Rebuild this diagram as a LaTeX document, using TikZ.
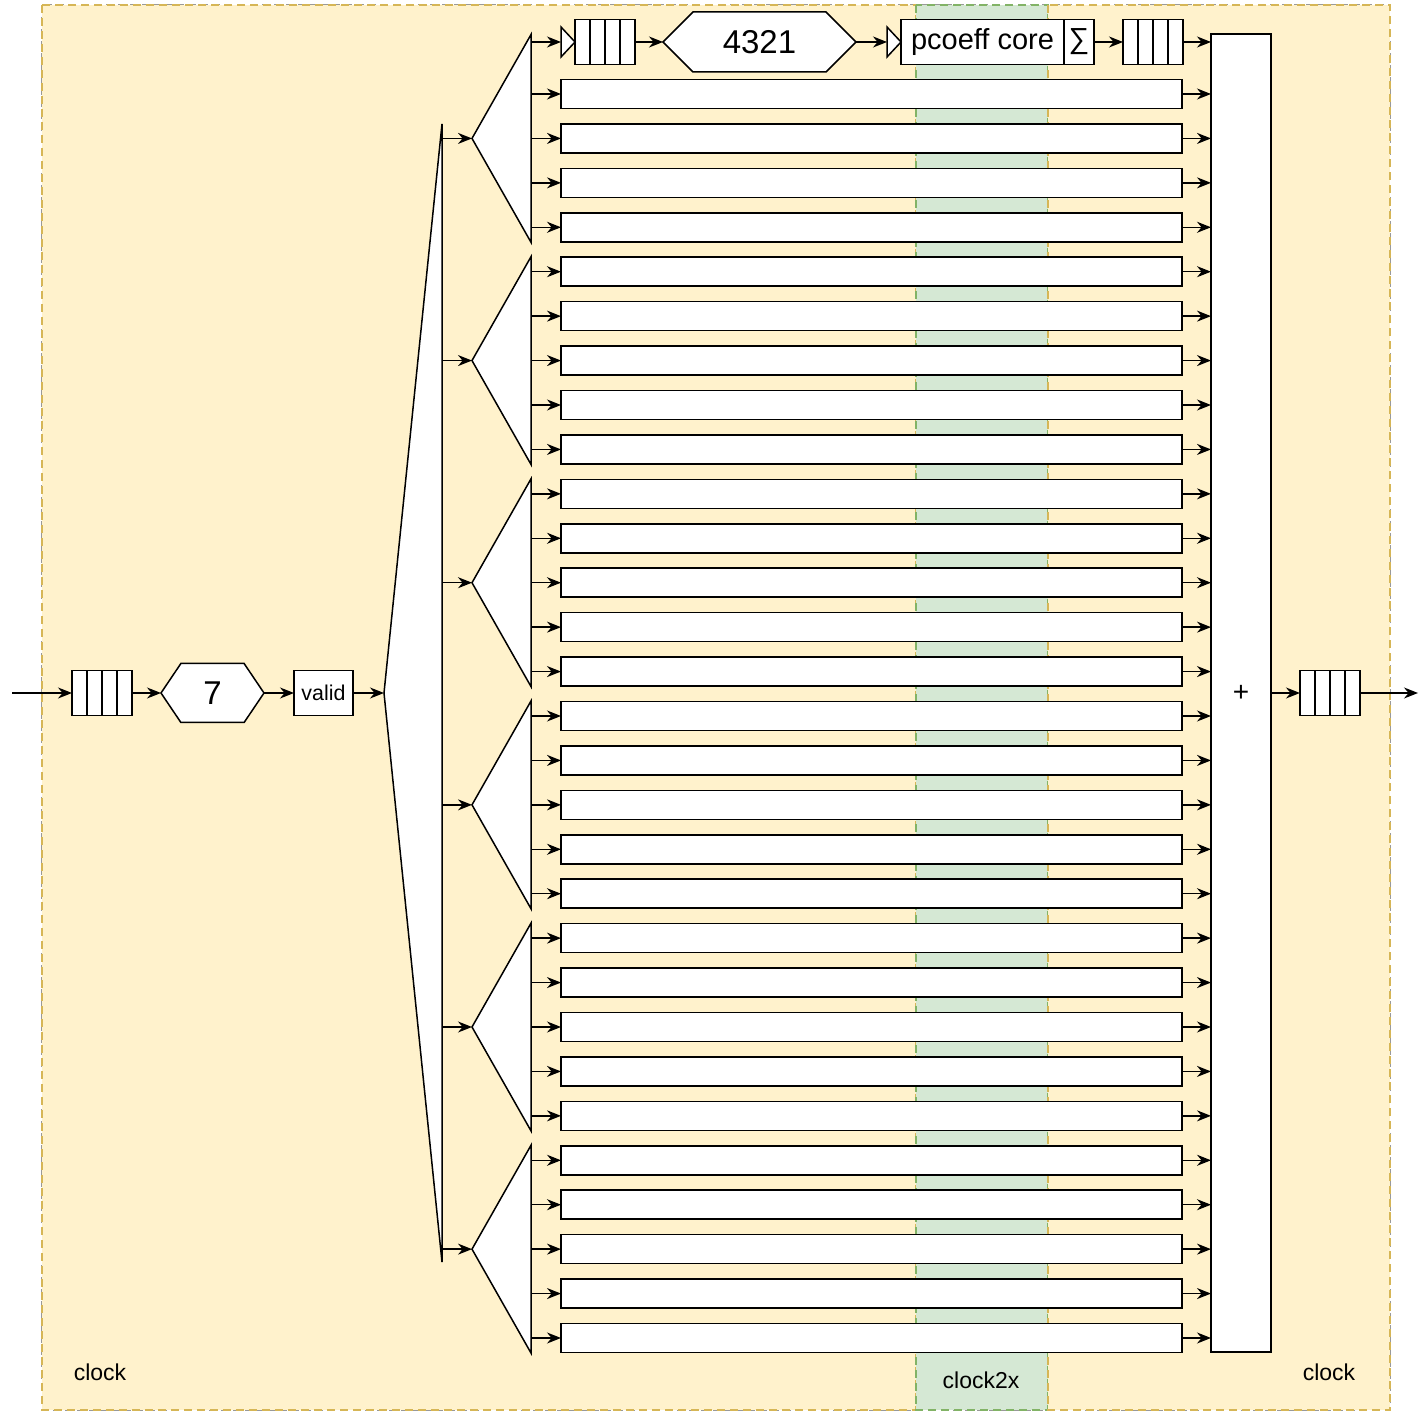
\documentclass[tikz,border=0pt]{standalone}
\usepackage{fontspec}
\setmainfont{Liberation Sans}
\usetikzlibrary{arrows.meta,shapes.symbols,calc}

\definecolor{clkfill}{HTML}{FFF2CC}
\definecolor{clkline}{HTML}{D6B656}
\definecolor{fastfill}{HTML}{D5E8D4}
\definecolor{fastline}{HTML}{82B366}

\tikzset{
  wire/.style={line width=0.7pt, -{Stealth[length=7pt,width=5.5pt]}},
  blk/.style={draw, fill=white, line width=0.75pt, inner sep=0pt, outer sep=0pt},
  fifo/.style={blk, minimum width=30pt, minimum height=22.5pt,
    path picture={\foreach \f in {0.25,0.5,0.75}{
      \draw[line width=0.75pt]
        ($(path picture bounding box.north west)!\f!(path picture bounding box.north east)$) --
        ($(path picture bounding box.south west)!\f!(path picture bounding box.south east)$);}}},
  lane/.style={blk, minimum width=310.5pt, minimum height=14.5pt},
  hexa/.style={blk, shape=signal, signal to=west and east},
  region/.style={line width=1.2pt, dash pattern=on 4pt off 2.5pt},
  lbl/.style={font=\fontsize{11.5pt}{13pt}\selectfont},
  big/.style={font=\fontsize{16.5pt}{18pt}\selectfont},
}

\begin{document}
\begin{tikzpicture}[x=0.5pt,y=-0.5pt]
\useasboundingbox (0,0) rectangle (1420,1411);

% clock domains
\draw[gray!80, line width=0.8pt, dash pattern=on 3pt off 3pt] (42,5) rectangle (1390,1410);
\filldraw[fill=clkfill, draw=clkline, region] (42,5) rectangle (916,1410);
\filldraw[fill=fastfill, draw=fastline, region] (916,5) rectangle (1048,1410);
\filldraw[fill=clkfill, draw=clkline, region] (1048,5) rectangle (1390,1410);
\node[lbl] (clkL) at (100,1372) {clock};
\node[lbl] (clk2x) at (981,1380) {clock2x};
\node[lbl] (clkR) at (1329,1372) {clock};

% input stage
\coordinate (in) at (12,693);
\node[fifo] (qin) at (102,693) {};
\node[hexa, big, minimum width=51.5pt, minimum height=29.5pt, signal pointer angle=112] (h7) at (212.5,693) {7};
\node[blk, minimum width=29.5pt, minimum height=22.5pt, font=\fontsize{10.7pt}{12pt}\selectfont] (valid) at (323.5,693) {valid};
\draw[wire] (in) -- (qin.west);
\draw[wire] (qin.east) -- (h7.west);
\draw[wire] (h7.east) -- (valid.west);

% first-level demux
\draw[blk] (384,693) -- (442,124) -- (442,1262) -- cycle;
\coordinate (bd) at (384,693);
\draw[wire] (valid.east) -- (bd);

% adder
\node[blk, minimum width=30pt, minimum height=659pt, font=\fontsize{14pt}{16pt}\selectfont] (adder) at (1241,693) {+};

% second-level demuxes
\foreach \g in {0,...,5}{
  \pgfmathsetmacro{\ytop}{49.5714+5*\g*44.4286-15}
  \pgfmathsetmacro{\yap}{49.5714+(5*\g+2)*44.4286}
  \pgfmathsetmacro{\ybot}{49.5714+(5*\g+4)*44.4286+15}
  \draw[blk] (472,\yap) -- (531,\ytop) -- (531,\ybot) -- cycle;
  \coordinate (s\g) at (442,\yap);
  \coordinate (d\g) at (472,\yap);
  \draw[wire] (s\g) -- (d\g);
}

% lanes
\foreach \k in {1,...,29}{
  \pgfmathsetmacro{\yk}{49.5714+\k*44.4286}
  \coordinate (o\k) at (531,\yk);
  \node[lane] (lane\k) at (871.5,\yk) {};
  \draw[wire] (o\k) -- (lane\k.west);
  \draw[wire] (lane\k.east) -- (lane\k.east -| adder.west);
}

% detailed lane
\coordinate (o0) at (531,42);
\node[fifo] (qa) at (605,42) {};
\draw[blk] (qa.west) -- ++(-14,-15) -- ++(0,30) -- cycle;
\coordinate (ta) at ($(qa.west)+(-14,0)$);
\node[hexa, big, minimum width=96.5pt, minimum height=30pt, signal pointer angle=90] (h4) at (759.5,42) {4321};
\node[blk, minimum width=81.5pt, minimum height=22.5pt, font=\fontsize{14.5pt}{16pt}\selectfont] (core) at (982.5,42) {pcoeff core};
\draw[blk] (core.west) -- ++(-14,-15) -- ++(0,30) -- cycle;
\coordinate (tb) at ($(core.west)+(-14,0)$);
\node[blk, minimum width=15pt, minimum height=22.5pt, font=\fontsize{14.5pt}{16pt}\selectfont] (sum) at (1079,42) {∑};
\node[fifo] (qb) at (1153,42) {};
\draw[wire] (o0) -- (ta);
\draw[wire] (qa.east) -- (h4.west);
\draw[wire] (h4.east) -- (tb);
\draw[wire] (sum.east) -- (qb.west);
\draw[wire] (qb.east) -- (qb.east -| adder.west);

% output stage
\node[fifo] (qout) at (1330,693) {};
\coordinate (out) at (1418,693);
\draw[wire] (adder.east) -- (qout.west);
\draw[wire] (qout.east) -- (out);
\end{tikzpicture}
\end{document}
